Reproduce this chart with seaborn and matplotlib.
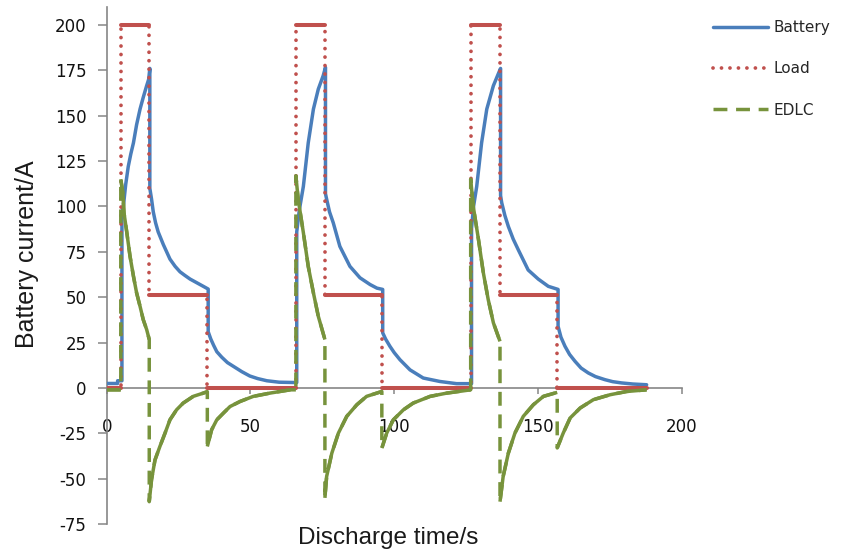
import numpy as np
import pandas as pd
import matplotlib
matplotlib.use("Agg")
import matplotlib.pyplot as plt
import seaborn as sns

# ---------------- data ----------------
series_names = ["Battery", "Load", "EDLC"]

battery_t = [0, 3.8, 3.8, 5.3, 5.3, 5.8, 6.6, 7.5, 8.4, 9.3, 10.4, 11.6, 12.7, 13.9, 14.6, 15.0,
             15.0, 15.6, 16.2, 17.0, 17.9, 19.7, 22.0, 23.8, 25.5, 27.2, 29.0, 31.3, 33.6, 35.3,
             35.3, 36.2, 37.2, 38.3, 40.0, 42.0, 44.0, 47.0, 49.8, 52.5, 55.7, 60.0, 66.1,
             66.1, 67.0, 68.4, 70.1, 71.9, 73.6, 75.3, 76.1,
             76.1, 76.5, 77.5, 78.8, 81.1, 84.6, 88.1, 91.6, 94.0, 96.0,
             96.0, 97.0, 98.5, 100.0, 102.0, 105.5, 110.1, 115.9, 121.7, 126.9,
             126.9, 127.6, 128.7, 130.4, 132.2, 134.5, 136.2, 137.0,
             137.0, 137.4, 138.5, 139.7, 141.4, 143.2, 146.6, 150.1, 153.6, 157.0,
             157.0, 158.0, 159.4, 161.0, 162.9, 165.0, 167.5, 170.0, 173.3, 176.0, 179.1, 183.0, 187.8]
battery_i = [2.5, 2.5, 4.0, 4.0, 97, 100, 112, 122, 129, 135, 145, 153.6, 160, 166.5, 170, 176,
             110, 104, 97, 91, 86, 79, 71, 67, 64, 62, 60, 58, 56, 54.5,
             31, 27, 23.5, 20, 17, 14, 12, 9, 6.6, 5.2, 4, 3.2, 3.0,
             86, 98, 111, 135, 153.6, 164.6, 172, 176.6,
             107, 104, 97, 91, 78, 67, 60.7, 57, 55, 54.3,
             30.4, 27, 23, 19.5, 15.6, 10, 5.5, 3.6, 2.4, 2.4,
             88, 100, 111, 135, 153.6, 166.5, 173, 176,
             106, 102, 95, 89, 82, 76, 65, 60, 56, 54.3,
             34, 28, 23, 18.5, 14.7, 11, 8.3, 6.3, 4.6, 3.5, 2.8, 2.2, 1.8]

load_t = [0, 4.9, 4.9, 14.8, 14.8, 35.0, 35.0, 65.8, 65.8, 75.9, 75.9, 95.7, 95.7,
          126.6, 126.6, 136.8, 136.8, 156.7, 156.7, 187.8]
load_i = [0, 0, 200, 200, 51, 51, 0, 0, 200, 200, 51, 51, 0,
          0, 200, 200, 51, 51, 0, 0]

edlc_t = [0, 4.9, 4.9, 5.6, 6.0, 7.0, 8.1, 9.3, 10.4, 11.6, 12.7, 13.9, 14.8,
          14.8, 15.6, 16.8, 18.5, 20.3, 22.0, 24.3, 26.6, 30.1, 33.6, 35.0,
          35.0, 36.5, 38.3, 40.6, 42.9, 46.4, 51.0, 56.8, 63.8, 65.8,
          65.8, 66.6, 68.4, 70.1, 71.9, 73.6, 75.9,
          75.9, 76.5, 78.3, 80.6, 83.5, 87.0, 90.4, 95.7,
          95.7, 97.4, 99.7, 103.2, 106.6, 112.5, 118.3, 126.6,
          126.6, 127.5, 129.3, 131.0, 132.7, 134.5, 136.8,
          136.8, 137.9, 139.7, 142.0, 144.9, 148.4, 151.9, 156.7,
          156.7, 158.8, 161.2, 164.7, 169.3, 175.1, 180.9, 187.8]
edlc_i = [-1, -1, 115, 107.7, 96.6, 85.6, 72.7, 61.6, 52.4, 45, 37.7, 32.2, 26.7,
          -62.6, -50.4, -39.6, -32.2, -24.8, -17.5, -12, -8.3, -4.6, -2.8, -2,
          -32.2, -23, -17.5, -13.8, -10.2, -7.4, -4.6, -2.8, -1, -1,
          116.9, 104, 85.6, 67, 52.4, 39.5, 26.7,
          -60.5, -48.7, -35.9, -24.8, -15.6, -9.2, -4.6, -1.9,
          -33.1, -24.8, -17.5, -12, -8.3, -4.6, -2.8, -1,
          115, 100, 81.9, 63.5, 48.7, 35.9, 25.7,
          -62.6, -48.7, -35.9, -24.8, -15.6, -9.2, -4.6, -2.4,
          -33, -24.8, -16.5, -11, -6.4, -3.7, -1.9, -1]

x_ticks = [0, 50, 100, 150, 200]
y_ticks = [-75, -50, -25, 0, 25, 50, 75, 100, 125, 150, 175, 200]

# ---------------- style ----------------
sns.set_theme(style="white")
plt.rcParams["font.family"] = ["DejaVu Sans"]

BLUE = "#4A7EBB"
RED = "#C0504D"
GREEN = "#77933C"
AXIS = "#868686"
TEXT = "#1a1a1a"
LW = 2.5

fig = plt.figure(figsize=(8.41, 5.55), dpi=100)
ax = fig.add_axes([106.7 / 841, 1 - 524.2 / 555, 575 / 841, 517.5 / 555])


def split_vertical(t, v):
    """Break the series at vertical jumps (points that share a time)."""
    tt, vv = [], []
    for i in range(len(t)):
        tt.append(t[i])
        vv.append(v[i])
        if i + 1 < len(t) and t[i + 1] == t[i]:
            tt.append(np.nan)
            vv.append(np.nan)
    return tt, vv


bat = pd.DataFrame({"t": battery_t, "I": battery_i})
load = pd.DataFrame({"t": load_t, "I": load_i})
edlc = pd.DataFrame({"t": edlc_t, "I": edlc_i})

sns.lineplot(data=bat, x="t", y="I", sort=False, estimator=None, color=BLUE,
             linewidth=LW, ax=ax, label=series_names[0], zorder=3)

sns.lineplot(data=load, x="t", y="I", sort=False, estimator=None, color=RED,
             linewidth=2.7, linestyle=(0, (0.01, 2.25)), dash_capstyle="round",
             ax=ax, label=series_names[1], zorder=4)
lt, lv = split_vertical(load_t, load_i)
ax.plot(lt, lv, color=RED, linewidth=2.9, solid_capstyle="round", zorder=4)

sns.lineplot(data=edlc, x="t", y="I", sort=False, estimator=None, color=GREEN,
             linewidth=LW, linestyle=(0, (4, 2.5)), ax=ax, label=series_names[2], zorder=5)
et, ev = split_vertical(edlc_t, edlc_i)
ax.plot(et, ev, color=GREEN, linewidth=LW, solid_capstyle="butt", zorder=5)

# ---------------- axes ----------------
ax.set_xlim(0, 200)
ax.set_ylim(-75, 210)
ax.set_xticks(x_ticks)
ax.set_yticks(y_ticks)
ax.set_xticklabels([str(v) for v in x_ticks])
ax.set_yticklabels([str(v) for v in y_ticks])

for s in ["top", "right"]:
    ax.spines[s].set_visible(False)
ax.spines["bottom"].set_position(("data", 0))
ax.spines["bottom"].set_bounds(0, 200)
ax.spines["left"].set_bounds(-75, 210)
for s in ["bottom", "left"]:
    ax.spines[s].set_color(AXIS)
    ax.spines[s].set_linewidth(1.2)
    ax.spines[s].set_zorder(2)

ax.tick_params(axis="y", left=True, direction="out", length=6.5, width=1.1,
               color=AXIS, pad=8, labelsize=12, labelcolor="#111111")
ax.tick_params(axis="x", bottom=True, direction="out", length=4.5, width=1.1,
               color=AXIS, pad=17, labelsize=12, labelcolor="#111111")

ax.set_xlabel("Discharge time/s", fontsize=17.5, family=["Liberation Sans", "DejaVu Sans"],
              color=TEXT)
ax.set_ylabel("Battery current/A", fontsize=18, family=["Liberation Sans", "DejaVu Sans"],
              color=TEXT)
ax.xaxis.set_label_coords((388 - 106.7) / 575, -0.006)
ax.yaxis.set_label_coords(-0.118, 0.522)

handles, labels = ax.get_legend_handles_labels()
ax.legend(handles, labels, loc="upper left", bbox_to_anchor=(713 / 841, 0.964),
          bbox_transform=fig.transFigure, frameon=False, fontsize=11,
          handlelength=3.6, handletextpad=0.35, labelspacing=1.72,
          borderaxespad=0, borderpad=0)

fig.savefig("out.png", dpi=100)
